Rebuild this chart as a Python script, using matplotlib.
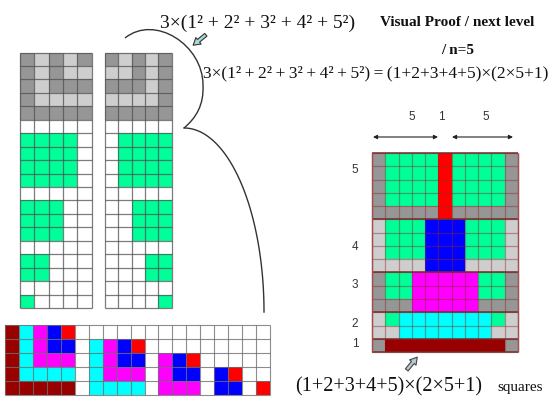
import matplotlib
matplotlib.use('Agg')
import matplotlib.pyplot as plt
from matplotlib.patches import Rectangle, FancyArrowPatch, PathPatch
from matplotlib.path import Path
import numpy as np

# colour codes used in the cell grids
COLORS = {
    'D': '#969696',  # dark grey
    'L': '#cecece',  # light grey
    'G': '#00ff99',  # green
    'R': '#ff0000',  # red
    'B': '#0000ff',  # blue
    'M': '#ff00ff',  # magenta
    'C': '#00ffff',  # cyan
    'K': '#990000',  # dark red
    'W': '#ffffff',  # empty
}

# left column: squares 5..1 stacked (copy 1)
left_stack = [
    'DLDLD', 'DLDLL', 'DLDDD', 'DLLLL', 'DDDDD',
    'WWWWW',
    'GGGGW', 'GGGGW', 'GGGGW', 'GGGGW',
    'WWWWW',
    'GGGWW', 'GGGWW', 'GGGWW',
    'WWWWW',
    'GGWWW', 'GGWWW',
    'WWWWW',
    'GWWWW',
]

# second column: the same squares, mirrored (copy 2)
right_stack = [
    'DLDLD', 'LLDLD', 'DDDLD', 'LLLLD', 'DDDDD',
    'WWWWW',
    'WGGGG', 'WGGGG', 'WGGGG', 'WGGGG',
    'WWWWW',
    'WWGGG', 'WWGGG', 'WWGGG',
    'WWWWW',
    'WWWGG', 'WWWGG',
    'WWWWW',
    'WWWWG',
]

# bottom row: squares cut into gnomons (copy 3)
bottom_row = [
    'KCMBRWWWWWWWWWWWWWW',
    'KCMBBWCMBRWWWWWWWWW',
    'KCMMMWCMBBWMBRWWWWW',
    'KCCCCWCMMMWMBBWBRWW',
    'KKKKKWCCCCWMMMWBBWR',
]

# the rearranged (1+2+3+4+5) x (2*5+1) rectangle
big_rect = [
    'DGGGGRGGGGD', 'DGGGGRGGGGD', 'DGGGGRGGGGD', 'DGGGGRGGGGD',
    'DDDDDRDDDDD',
    'LGGGBBBGGGL', 'LGGGBBBGGGL', 'LGGGBBBGGGL',
    'LLLLBBBLLLL',
    'DGGMMMMMGGD', 'DGGMMMMMGGD',
    'DDDMMMMMDDD',
    'LGCCCCCCCGL',
    'LLCCCCCCCLL',
    'DKKKKKKKKKD',
]
band_rows = [5, 4, 3, 2, 1]
band_labels = ['5', '4', '3', '2', '1']
width_labels = ['5', '1', '5']

eq_top = '3×(1² + 2² + 3² + 4² + 5²)'
eq_main = '3×(1²\u2009+\u20092²\u2009+\u20093²\u2009+\u20094²\u2009+\u20095²)\u2009=\u2009(1+2+3+4+5)×(2×5+1)'
eq_bottom = '(1+2+3+4+5)×(2×5+1)'


def draw_grid(ax, rows, x0, y0, cw, ch, lc, lw, alpha=1.0, solid=''):
    nr, nc = len(rows), len(rows[0])
    for r, row in enumerate(rows):
        for c, code in enumerate(row):
            if code in solid:
                continue
            ax.add_patch(Rectangle((x0 + c * cw, y0 + r * ch), cw, ch,
                                   facecolor=COLORS[code], edgecolor='none', zorder=1))
    ax.hlines([y0 + r * ch for r in range(nr + 1)], x0, x0 + nc * cw,
              colors=lc, lw=lw, alpha=alpha, zorder=2)
    ax.vlines([x0 + c * cw for c in range(nc + 1)], y0, y0 + nr * ch,
              colors=lc, lw=lw, alpha=alpha, zorder=2)
    for r, row in enumerate(rows):
        for c, code in enumerate(row):
            if code in solid:
                ax.add_patch(Rectangle((x0 + c * cw, y0 + r * ch + 0.5), cw, ch - 1,
                                       facecolor=COLORS[code], edgecolor='none', zorder=3))


fig = plt.figure(figsize=(5.55, 4.03), dpi=100)
ax = fig.add_axes([0, 0, 1, 1])
ax.set_xlim(0, 555)
ax.set_ylim(403, 0)
ax.axis('off')

# left stacks
draw_grid(ax, left_stack, 20, 52.5, 14.3, 13.45, '#505050', 0.9, alpha=0.75)
draw_grid(ax, right_stack, 105, 52.5, 13.3, 13.45, '#505050', 0.9, alpha=0.75)
# bottom gnomons
draw_grid(ax, bottom_row, 5, 325, 13.95, 14.0, '#707070', 0.8, alpha=0.8)

# big rectangle
bx, by, bc = 372, 153, 13.27
draw_grid(ax, big_rect, bx, by, bc, bc, '#8b2a2a', 0.9, alpha=0.45, solid='K')
cum = np.cumsum(band_rows)
ax.hlines([by] + [by + k * bc for k in cum], bx, bx + 11 * bc,
          colors='#7a2a2a', lw=1.1, zorder=4)
ax.vlines([bx, bx + 11 * bc], by, by + 15 * bc, colors='#a05050', lw=1.0, zorder=4)

label_y = [170, 247, 285, 324, 344]
for lab, yy in zip(band_labels, label_y):
    ax.text(355, yy, lab, ha='center', va='center', fontsize=8.5,
            family='Liberation Sans', color='#333333')

for lab, xx in zip(width_labels, [412, 441, 486]):
    ax.text(xx, 117, lab, ha='center', va='center', fontsize=8.5,
            family='Liberation Sans', color='#333333')
for xa, xb in [(373, 438), (452, 513)]:
    ax.annotate('', xy=(xa, 137), xytext=(xb, 137),
                arrowprops=dict(arrowstyle='<|-|>', color='#222222', lw=0.8,
                                mutation_scale=6, shrinkA=0, shrinkB=0))

# curved connector
verts = [(125, 38), (155, 14), (203, 45), (203, 85),
         (204, 105), (196, 118), (184, 128)]
codes = [Path.MOVETO, Path.CURVE4, Path.CURVE4, Path.CURVE4,
         Path.CURVE4, Path.CURVE4, Path.CURVE4]
ax.add_patch(PathPatch(Path(verts, codes), facecolor='none',
                       edgecolor='#333333', lw=1.0, zorder=5))
t = np.linspace(0, np.pi / 2, 100)
ax.plot(184 + 80 * np.cos(t), 312 - 184 * np.sin(t), color='#333333', lw=1.0, zorder=5)

# block arrows
ax.add_patch(FancyArrowPatch((208, 33), (191, 47),
                             arrowstyle='simple,head_length=5,head_width=6,tail_width=2.5',
                             mutation_scale=1, fc='#a8d8d8', ec='#333333', lw=0.8, zorder=6))
ax.add_patch(FancyArrowPatch((405, 372), (419, 355),
                             arrowstyle='simple,head_length=5,head_width=6,tail_width=2.5',
                             mutation_scale=1, fc='#b8c8d0', ec='#444444', lw=0.8, zorder=6))

# texts
serif = 'Liberation Serif'
ax.text(160, 23, eq_top, ha='left', va='center', fontsize=14,
        family=serif, color='#111111')
ax.text(380, 23, 'Visual Proof / next level', ha='left', va='center', fontsize=11,
        family=serif, weight='bold', color='#111111')
ax.text(441, 50, '/ n=5', ha='left', va='center', fontsize=11,
        family=serif, weight='bold', color='#111111')
ax.text(203, 73, eq_main, ha='left', va='center', fontsize=12.5,
        family=serif, color='#111111')
ax.text(295, 387, eq_bottom, ha='left', va='center', fontsize=14.5,
        family=serif, color='#111111')
ax.text(497, 387, 'squares', ha='left', va='center', fontsize=11,
        family=serif, color='#111111')

fig.savefig('out.png', dpi=100)
